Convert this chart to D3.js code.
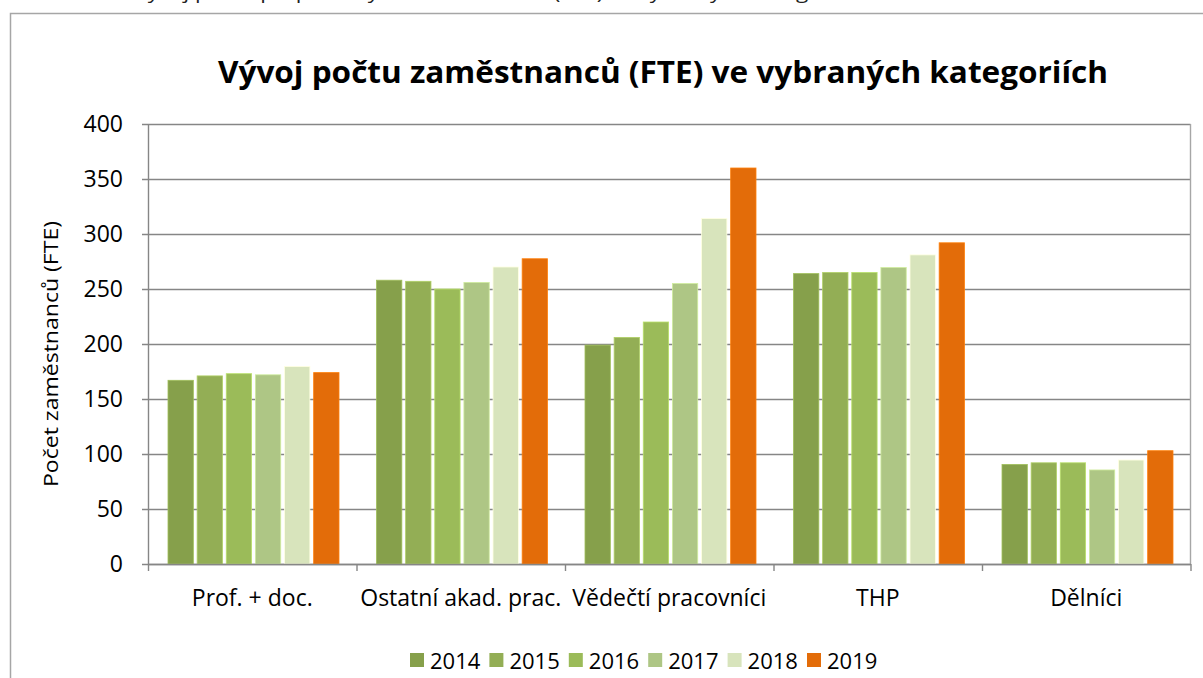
<!DOCTYPE html>
<html>
<head>
<meta charset="utf-8">
<script src="https://cdn.jsdelivr.net/npm/d3@7"></script>
<style>
    html, body { margin: 0; padding: 0; background: #fff; }
    svg { display: block; }
</style>
</head>
<body>
<div id="chart"></div>
<script>
// Data
const categories = ["Prof. + doc.", "Ostatní akad. prac.", "Vědečtí pracovníci", "THP", "Dělníci"]
const years = ["2014", "2015", "2016", "2017", "2018", "2019"]
const values2014 = [167, 258, 199, 264, 90.5]
const values2015 = [171, 257, 206, 265, 92]
const values2016 = [173, 250, 220, 265, 92]
const values2017 = [172, 256, 255, 269.5, 85.5]
const values2018 = [179.5, 270, 314, 281, 94.5]
const values2019 = [174, 277.5, 360, 292, 103]
const yTicks = [0, 50, 100, 150, 200, 250, 300, 350, 400]
const colors = ["#86a04b", "#93ae55", "#9bbb59", "#aec685", "#d8e4bc", "#e36c09"]

const series = [values2014, values2015, values2016, values2017, values2018, values2019]

const dimensions = {
    width: 1203,
    height: 678,
    margin: {top: 124, right: 12, bottom: 114, left: 148},
}
const font = "'Open Sans', 'Noto Sans', sans-serif"

const svg = d3.select("#chart")
    .append("svg")
    .attr("width", dimensions.width)
    .attr("height", dimensions.height)
    .style("font-family", font)

// cut-off caption above the chart frame
svg.append("text")
    .attr("x", 4)
    .attr("y", -1)
    .attr("font-size", 18)
    .attr("fill", "#222")
    .attr("textLength", 1160)
    .attr("lengthAdjust", "spacingAndGlyphs")
    .text("Obrázek 12: Vývoj počtu přepočtených zaměstnanců (FTE) ve vybraných kategoriích na ČZU v letech 2014 – 2019")

// chart frame
svg.append("rect")
    .attr("x", 10.5)
    .attr("y", 13.5)
    .attr("width", 1220)
    .attr("height", 700)
    .attr("fill", "#fff")
    .attr("stroke", "#a6a6a6")
    .attr("stroke-width", 1.5)

// Title
svg.append("text")
    .attr("x", 663)
    .attr("y", 83)
    .attr("text-anchor", "middle")
    .attr("font-size", 30)
    .attr("font-weight", "bold")
    .attr("fill", "#000")
    .attr("textLength", 890)
    .attr("lengthAdjust", "spacingAndGlyphs")
    .text("Vývoj počtu zaměstnanců (FTE) ve vybraných kategoriích")

const plotW = dimensions.width - dimensions.margin.left - dimensions.margin.right - 0.5
const plotH = dimensions.height - dimensions.margin.top - dimensions.margin.bottom

const g = svg.append("g")
    .attr("transform", `translate(${dimensions.margin.left},${dimensions.margin.top})`)

// Scales
const x0 = d3.scaleBand().domain(categories).range([0, plotW]).padding(0)
const x1 = d3.scaleBand().domain(years)
    .range([20, x0.bandwidth() - 17.5])
    .paddingInner(0.13)
    .paddingOuter(0)
const y = d3.scaleLinear().domain([0, 400]).range([plotH, 0])

// Gridlines
g.append("g")
    .selectAll("line")
    .data(yTicks)
    .join("line")
    .attr("x1", -6)
    .attr("x2", plotW)
    .attr("y1", d => Math.round(y(d)) + 0.5)
    .attr("y2", d => Math.round(y(d)) + 0.5)
    .attr("stroke", "#868686")
    .attr("stroke-width", 1.4)

// right border of plot area
g.append("line")
    .attr("x1", plotW)
    .attr("x2", plotW)
    .attr("y1", 0)
    .attr("y2", plotH)
    .attr("stroke", "#a6a6a6")
    .attr("stroke-width", 1.4)

// Bars
const groups = g.append("g")
    .selectAll("g")
    .data(categories)
    .join("g")
    .attr("transform", d => `translate(${x0(d)},0)`)

groups.selectAll("rect")
    .data((c, ci) => years.map((yr, si) => ({year: yr, value: series[si][ci], si})))
    .join("rect")
    .attr("x", d => x1(d.year))
    .attr("width", x1.bandwidth())
    .attr("y", d => y(d.value))
    .attr("height", d => y(0) - y(d.value))
    .attr("fill", d => colors[d.si])
    .attr("stroke", d => d3.color(colors[d.si]).brighter(0.5))
    .attr("stroke-width", 0.8)

// Y axis
const yAxis = g.append("g")
    .call(d3.axisLeft(y).tickValues(yTicks).tickSize(6).tickPadding(19))
yAxis.select(".domain").attr("stroke", "#868686").attr("stroke-width", 1.4).attr("d", `M0.5,0V${plotH}`)
yAxis.selectAll(".tick line").remove()
yAxis.selectAll("text")
    .attr("font-size", 23)
    .attr("font-family", font)
    .attr("fill", "#000")

// X axis
const xAxis = g.append("g")
    .attr("transform", `translate(0,${plotH})`)
    .call(d3.axisBottom(x0).tickSize(0))
xAxis.select(".domain").attr("stroke", "#868686").attr("stroke-width", 1.4)
xAxis.selectAll("text")
    .attr("y", 42)
    .attr("dy", null)
    .attr("font-size", 23)
    .attr("font-family", font)
    .attr("fill", "#000")

// category separator ticks
g.append("g")
    .selectAll("line")
    .data(categories.concat(["end"]))
    .join("line")
    .attr("x1", (d, i) => i * x0.step() + 0.5)
    .attr("x2", (d, i) => i * x0.step() + 0.5)
    .attr("y1", plotH)
    .attr("y2", plotH + 7)
    .attr("stroke", "#868686")
    .attr("stroke-width", 1.4)

// Y axis label
svg.append("text")
    .attr("transform", "translate(58,354) rotate(-90)")
    .attr("text-anchor", "middle")
    .attr("font-size", 20)
    .attr("fill", "#000")
    .attr("textLength", 266)
    .attr("lengthAdjust", "spacingAndGlyphs")
    .text("Počet zaměstnanců (FTE)")

// Legend
const legend = svg.append("g")
    .attr("transform", "translate(410,653)")
    .selectAll("g")
    .data(years)
    .join("g")
    .attr("transform", (d, i) => `translate(${i * 79.4},0)`)

legend.append("rect")
    .attr("width", 14)
    .attr("height", 14)
    .attr("fill", (d, i) => colors[i])

legend.append("text")
    .attr("x", 20)
    .attr("y", 15.5)
    .attr("font-size", 22)
    .attr("fill", "#000")
    .text(d => d)
</script>
</body>
</html>
